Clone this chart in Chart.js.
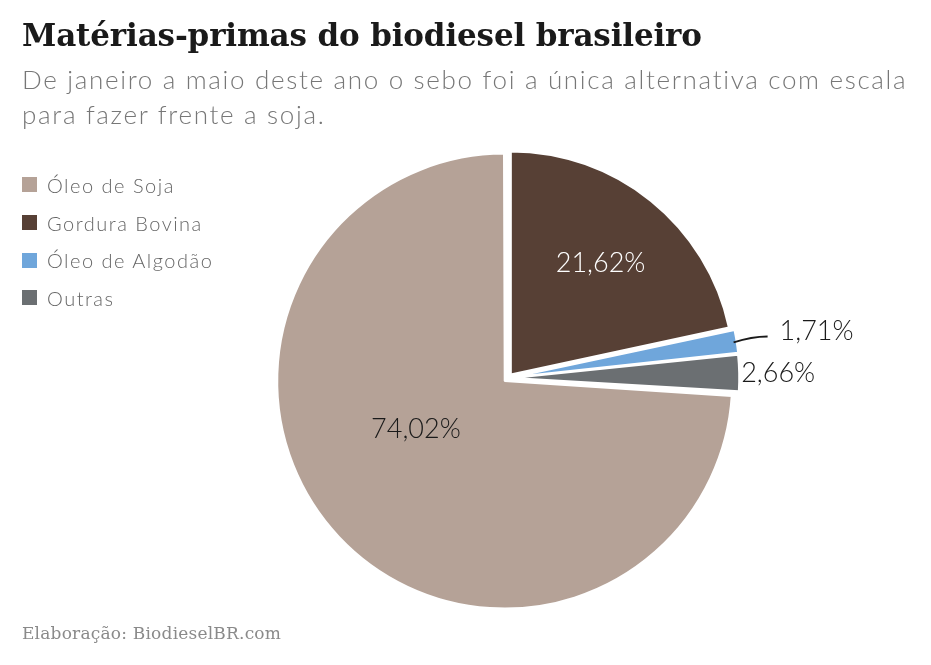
<!DOCTYPE html>
<html><head><meta charset="utf-8">
<script src="https://cdn.jsdelivr.net/npm/chart.js@4.4.1/dist/chart.umd.min.js"></script>
<style>
html,body{margin:0;padding:0;background:#fff;width:931px;height:665px;overflow:hidden;position:relative;}
#c{position:absolute;left:0;top:0;}
.t{position:absolute;left:22px;top:17px;font-family:"DejaVu Serif",serif;font-weight:bold;font-size:31px;color:#1a1a1a;letter-spacing:-0.15px;}
.s{position:absolute;left:22px;top:62px;font-family:Lato,"Open Sans",sans-serif;font-weight:300;font-size:26px;line-height:35px;color:#777;width:915px;letter-spacing:1.68px;}
.f{position:absolute;left:22px;top:623px;font-family:"DejaVu Serif",serif;font-size:17px;color:#8a8a8a;letter-spacing:0.2px;}
#lg{position:absolute;left:22px;top:166px;font-family:Lato,"Open Sans",sans-serif;font-weight:300;font-size:20px;color:#666;letter-spacing:1.5px;}
#lg div{height:37.7px;display:flex;align-items:center;}
#lg span.b{display:inline-block;width:15px;height:15px;margin-right:10px;}
</style></head>
<body>
<canvas id="c" width="931" height="665"></canvas>
<div class="t">Matérias-primas do biodiesel brasileiro</div>
<div class="s">De janeiro a maio deste ano o sebo foi a única alternativa com escala<br>para fazer frente a soja.</div>
<div id="lg"></div>
<div class="f">Elaboração: BiodieselBR.com</div>
<script>
// Data
const pieOrderLabels = ["Gordura Bovina","Óleo de Algodão","Outras","Óleo de Soja"];
const pieOrderValues = [21.62, 1.71, 2.66, 74.02];
const pieOrderColors = ["#574035","#6fa6db","#6b6f72","#b5a297"];
const legendLabels = ["Óleo de Soja","Gordura Bovina","Óleo de Algodão","Outras"];
const legendColors = ["#b5a297","#574035","#6fa6db","#6b6f72"];

// legend
const lg = document.getElementById('lg');
legendLabels.forEach((l,i)=>{
  const d=document.createElement('div');
  d.innerHTML='<span class="b" style="background:'+legendColors[i]+'"></span>'+l;
  lg.appendChild(d);
});

const fmt = v => v.toFixed(2).replace('.', ',') + '%';

// label placement config per slice (index order as data)
const labelCfg = [
  {mode:'in', r:0.64, shift:0, color:'#ffffff'},
  {mode:'out', color:'#1a1a1a', leader:true},
  {mode:'out', color:'#1a1a1a', leader:false},
  {mode:'in', r:0.433, shift:14, color:'#1a1a1a'}
];

const labelPlugin = {
  id:'sliceLabels',
  afterDatasetsDraw(chart){
    const ctx = chart.ctx;
    const meta = chart.getDatasetMeta(0);
    const vals = chart.data.datasets[0].data;
    ctx.save();
    ctx.font = '300 27px Lato, "Open Sans", sans-serif';
    ctx.textBaseline = 'middle';
    meta.data.forEach((arc,i)=>{
      const p = arc.getProps(['x','y','startAngle','endAngle','outerRadius','circumference'], true);
      const o = (arc.options.offset || 0)/4;
      const fix = 1 - Math.sin(Math.min(Math.PI, p.circumference || 0));
      const off = o + o*fix;
      const mid = (p.startAngle + p.endAngle)/2;
      const cfg = labelCfg[i];
      const txt = fmt(vals[i]);
      ctx.fillStyle = cfg.color;
      if (cfg.mode === 'in'){
        const a = mid + cfg.shift*Math.PI/180;
        const rr = off + p.outerRadius*cfg.r;
        ctx.textAlign='center';
        ctx.fillText(txt, p.x + rr*Math.cos(a), p.y + rr*Math.sin(a));
      } else {
        const rr = off + p.outerRadius;
        const ex = p.x + rr*Math.cos(mid), ey = p.y + rr*Math.sin(mid);
        ctx.textAlign='left';
        if (cfg.leader){
          ctx.strokeStyle='#1a1a1a'; ctx.lineWidth=2;
          ctx.beginPath();
          ctx.moveTo(ex-3, ey+1);
          ctx.quadraticCurveTo(ex+15, ey-5, ex+31, ey-5);
          ctx.stroke();
          ctx.fillText(txt, ex+43, ey-10);
        } else {
          ctx.fillText(txt, ex+2, ey);
        }
      }
    });
    ctx.restore();
  }
};

new Chart(document.getElementById('c'), {
  type:'pie',
  data:{ labels: pieOrderLabels,
    datasets:[{ data: pieOrderValues, backgroundColor: pieOrderColors,
      borderColor:'#ffffff', borderWidth:2, offset:18, hoverOffset:0 }]},
  options:{
    responsive:false, animation:false, events:[],
    layout:{padding:{left:275, top:145, right:190, bottom:54}},
    plugins:{legend:{display:false}, tooltip:{enabled:false}, title:{display:false}}
  },
  plugins:[labelPlugin]
});
</script>
</body></html>
